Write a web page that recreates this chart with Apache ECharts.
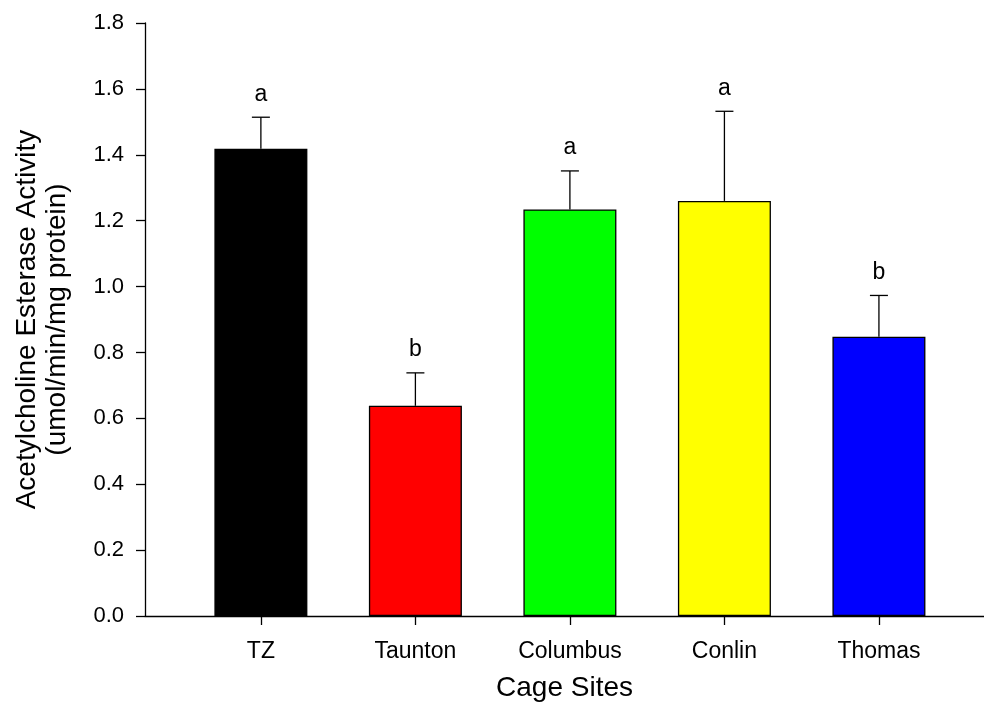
<!DOCTYPE html>
<html>
<head>
<meta charset="utf-8">
<script src="https://cdn.jsdelivr.net/npm/echarts@6/dist/echarts.min.js"></script>
<style>html,body{margin:0;padding:0;background:#fff}#c{width:984px;height:715px}</style>
</head>
<body>
<div id="c"></div>
<script>
const categories = ['TZ', 'Taunton', 'Columbus', 'Conlin', 'Thomas'];
const means = [1.418, 0.638, 1.234, 1.260, 0.848];
const errors = [0.096, 0.100, 0.117, 0.272, 0.125];
const letters = ['a', 'b', 'a', 'a', 'b'];
const barColors = ['#000000', '#ff0000', '#00ff00', '#ffff00', '#0000ff'];
const yTicks = [0, 0.2, 0.4, 0.6, 0.8, 1.0, 1.2, 1.4, 1.6, 1.8];

const FONT = 'Liberation Sans, Arial, sans-serif';
const idx = categories.map((c, i) => i);

const chart = echarts.init(document.getElementById('c'), null, {renderer: 'canvas'});
chart.setOption({
  animation: false,
  backgroundColor: '#fff',
  grid: {left: 145, right: 0, top: 23, bottom: 99, containLabel: false, outerBoundsMode: 'none'},
  xAxis: {
    type: 'value',
    min: -0.75,
    max: 4.68,
    name: 'Cage Sites',
    nameLocation: 'middle',
    nameGap: 58,
    nameTextStyle: {fontFamily: FONT, fontSize: 28, color: '#000'},
    axisLine: {show: true, onZero: false, lineStyle: {color: '#000', width: 1.3}},
    axisTick: {show: true, customValues: idx, length: 9, inside: false, lineStyle: {color: '#000', width: 1.3}},
    axisLabel: {show: true, customValues: idx, margin: 24, fontFamily: FONT, fontSize: 23, color: '#000',
      formatter: v => categories[Math.round(v)]},
    splitLine: {show: false}
  },
  yAxis: {
    type: 'value',
    min: 0,
    max: 1.8,
    interval: 0.2,
    name: 'Acetylcholine Esterase Activity\n(umol/min/mg protein)',
    nameLocation: 'middle',
    nameGap: 73,
    nameRotate: 90,
    nameTextStyle: {fontFamily: FONT, fontSize: 28, color: '#000', lineHeight: 30},
    axisLine: {show: true, onZero: false, lineStyle: {color: '#000', width: 1.3}},
    axisTick: {show: true, length: 9, inside: false, lineStyle: {color: '#000', width: 1.3}},
    axisLabel: {margin: 21, fontFamily: FONT, fontSize: 22, color: '#000',
      formatter: v => v.toFixed(1)},
    splitLine: {show: false}
  },
  series: [
    {
      type: 'bar',
      barWidth: 93,
      data: means.map((m, i) => ({
        value: [i, m],
        itemStyle: {color: barColors[i], borderColor: '#000', borderWidth: 1.3}
      })),
      z: 2
    },
    {
      type: 'custom',
      z: 3,
      data: means.map((m, i) => [i, m, m + errors[i]]),
      renderItem: function (params, api) {
        const i = api.value(0);
        const base = api.coord([i, api.value(1)]);
        const top = api.coord([i, api.value(2)]);
        const cap = 9;
        return {
          type: 'group',
          children: [
            {type: 'line', shape: {x1: base[0], y1: base[1], x2: top[0], y2: top[1]},
              style: {stroke: '#000', lineWidth: 1.3}},
            {type: 'line', shape: {x1: top[0] - cap, y1: top[1], x2: top[0] + cap, y2: top[1]},
              style: {stroke: '#000', lineWidth: 1.3}},
            {type: 'text', x: top[0], y: top[1] - 23,
              style: {text: letters[params.dataIndex], fontFamily: FONT, fontSize: 23, fill: '#000',
                align: 'center', verticalAlign: 'middle'}}
          ]
        };
      }
    }
  ]
});
</script>
</body>
</html>
